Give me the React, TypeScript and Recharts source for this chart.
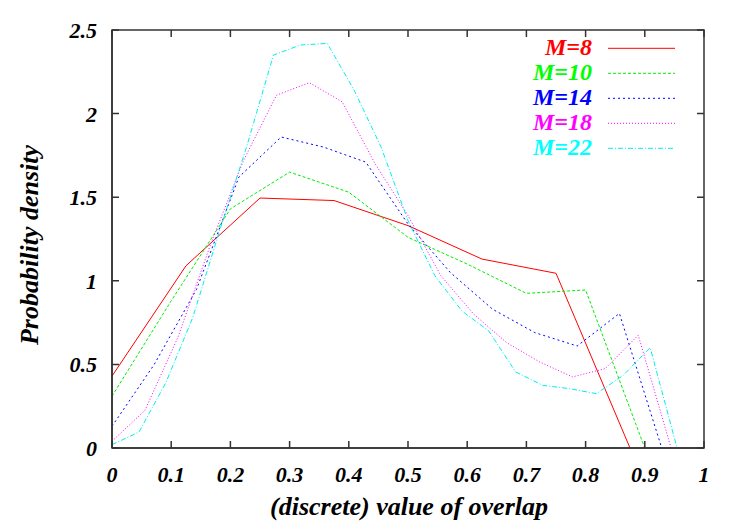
import React from 'react';
import { LineChart, Line, XAxis, YAxis } from 'recharts';

const FONT = "'Liberation Serif', 'Times New Roman', Times, serif";

const xTicks = [0, 0.1, 0.2, 0.3, 0.4, 0.5, 0.6, 0.7, 0.8, 0.9, 1];
const yTicks = [0, 0.5, 1, 1.5, 2, 2.5];

// discrete overlap values k/M and the density
const m8X = [0, 0.125, 0.25, 0.375, 0.5, 0.625, 0.75, 0.875];
const m8Y = [0.43, 1.09, 1.495, 1.48, 1.33, 1.13, 1.045, 0];

const m10X = [0, 0.1, 0.2, 0.3, 0.4, 0.5, 0.6, 0.7, 0.8, 0.9];
const m10Y = [0.31, 0.88, 1.43, 1.65, 1.53, 1.26, 1.1, 0.925, 0.945, 0];

const m14X = [0, 0.0714, 0.1429, 0.2143, 0.2857, 0.3571, 0.4286, 0.5, 0.5714, 0.6429, 0.7143, 0.7857, 0.8571, 0.9286];
const m14Y = [0.13, 0.5, 0.95, 1.62, 1.86, 1.8, 1.71, 1.34, 1.05, 0.83, 0.69, 0.61, 0.805, 0];

const m18X = [0, 0.0556, 0.1111, 0.1667, 0.2222, 0.2778, 0.3333, 0.3889, 0.4444, 0.5, 0.5556, 0.6111, 0.6667, 0.7222, 0.7778, 0.8333, 0.8889, 0.9444];
const m18Y = [0.04, 0.225, 0.66, 1.22, 1.72, 2.11, 2.185, 2.07, 1.7, 1.39, 1.03, 0.8, 0.63, 0.515, 0.425, 0.475, 0.675, 0];

const m22X = [0, 0.0455, 0.0909, 0.1364, 0.1818, 0.2273, 0.2727, 0.3182, 0.3636, 0.4091, 0.4545, 0.5, 0.5455, 0.5909, 0.6364, 0.6818, 0.7273, 0.7727, 0.8182, 0.8636, 0.9091, 0.9545];
const m22Y = [0.02, 0.095, 0.39, 0.78, 1.3, 1.8, 2.35, 2.41, 2.42, 2.14, 1.8, 1.36, 1.03, 0.82, 0.7, 0.455, 0.375, 0.355, 0.325, 0.435, 0.6, 0];

const toPoints = (xs: number[], ys: number[]) => xs.map((x, i) => ({ x, y: ys[i] }));

const series = [
  { name: 'M=8', color: '#ff0000', text: '#ff0000', dash: undefined, data: toPoints(m8X, m8Y) },
  { name: 'M=10', color: '#00ee00', text: '#00ff00', dash: '3 2', data: toPoints(m10X, m10Y) },
  { name: 'M=14', color: '#0000ff', text: '#0000ff', dash: '2 3', data: toPoints(m14X, m14Y) },
  { name: 'M=18', color: '#ff00ff', text: '#ff00ff', dash: '1 2', data: toPoints(m18X, m18Y) },
  { name: 'M=22', color: '#00eeee', text: '#00ffff', dash: '5 2 1 2', data: toPoints(m22X, m22Y) },
];

// chart box
const W = 747;
const H = 523;
const MARGIN = { top: 30, right: 43, bottom: 45, left: 0 };
const Y_AXIS_W = 112;
const X_AXIS_H = 30;
const PLOT_LEFT = MARGIN.left + Y_AXIS_W;
const PLOT_RIGHT = W - MARGIN.right;
const PLOT_TOP = MARGIN.top;
const PLOT_BOTTOM = H - MARGIN.bottom - X_AXIS_H;

const AXIS = '#333';
const TICK_LEN = 7;

const fmt = (v: number) => String(v);

// gnuplot style: ticks point inward on all four sides
const BottomTick = (props: any) => {
  const { x, y, payload } = props;
  return (
    <g>
      <path d={`M${x},${y}v${-TICK_LEN}M${x},${PLOT_TOP}v${TICK_LEN}`} stroke={AXIS} strokeWidth={1.5} fill="none" />
      <text x={x} y={y + 34} textAnchor="middle" fontFamily={FONT} fontWeight="bold" fontStyle="italic" fontSize={22} fill="#000">
        {fmt(payload.value)}
      </text>
    </g>
  );
};

const LeftTick = (props: any) => {
  const { x, y, payload } = props;
  return (
    <g>
      <path d={`M${x},${y}h${TICK_LEN}M${PLOT_RIGHT},${y}h${-TICK_LEN}`} stroke={AXIS} strokeWidth={1.5} fill="none" />
      <text x={x - 15} y={y + 8} textAnchor="end" fontFamily={FONT} fontWeight="bold" fontStyle="italic" fontSize={22} fill="#000">
        {fmt(payload.value)}
      </text>
    </g>
  );
};

export default function App() {
  return (
    <div style={{ position: 'relative', width: W, height: H, background: '#fff' }}>
      <style>{'body{margin:0}'}</style>
      <LineChart width={W} height={H} margin={MARGIN}>
        <XAxis
          type="number"
          dataKey="x"
          domain={[0, 1]}
          ticks={xTicks}
          allowDataOverflow
          height={X_AXIS_H}
          tickSize={0}
          tickMargin={0}
          stroke={AXIS}
          strokeWidth={1.5}
          tick={<BottomTick />}
          interval={0}
        />
        <YAxis
          type="number"
          domain={[0, 2.5]}
          ticks={yTicks}
          allowDataOverflow
          width={Y_AXIS_W}
          tickSize={0}
          tickMargin={0}
          stroke={AXIS}
          strokeWidth={1.5}
          tick={<LeftTick />}
          interval={0}
        />
        {series.map((s) => (
          <Line
            key={s.name}
            name={s.name}
            data={s.data}
            dataKey="y"
            type="linear"
            stroke={s.color}
            strokeWidth={1}
            strokeDasharray={s.dash}
            dot={false}
            activeDot={false}
            isAnimationActive={false}
          />
        ))}
      </LineChart>

      <svg width={W} height={H} style={{ position: 'absolute', left: 0, top: 0, pointerEvents: 'none' }}>
        {/* plot frame */}
        <rect
          x={PLOT_LEFT}
          y={PLOT_TOP}
          width={PLOT_RIGHT - PLOT_LEFT}
          height={PLOT_BOTTOM - PLOT_TOP}
          fill="none"
          stroke={AXIS}
          strokeWidth={1.5}
        />
        <text x={(PLOT_LEFT + PLOT_RIGHT) / 2 + 1} y={515} textAnchor="middle" fontFamily={FONT} fontWeight="bold" fontStyle="italic" fontSize={26} fill="#000">
          (discrete) value of overlap
        </text>
        <text
          x={38}
          y={245}
          transform="rotate(-90 38 245)"
          textAnchor="middle"
          fontFamily={FONT}
          fontWeight="bold"
          fontStyle="italic"
          fontSize={26}
          fill="#000"
        >
          Probability density
        </text>
      </svg>

      {series.map((s, i) => (
        <div key={s.name} style={{ position: 'absolute', left: 400, top: 35 + 25 * i, height: 25, display: 'flex' }}>
          <span
            style={{
              width: 192,
              textAlign: 'right',
              fontFamily: FONT,
              fontWeight: 'bold',
              fontStyle: 'italic',
              fontSize: 24,
              lineHeight: '25px',
              color: s.text,
            }}
          >
            {s.name}
          </span>
          <svg width={68} height={25} style={{ marginLeft: 16 }}>
            <line x1={0} y1={13.3} x2={67} y2={13.3} stroke={s.color} strokeWidth={1} strokeDasharray={s.dash} />
          </svg>
        </div>
      ))}
    </div>
  );
}
